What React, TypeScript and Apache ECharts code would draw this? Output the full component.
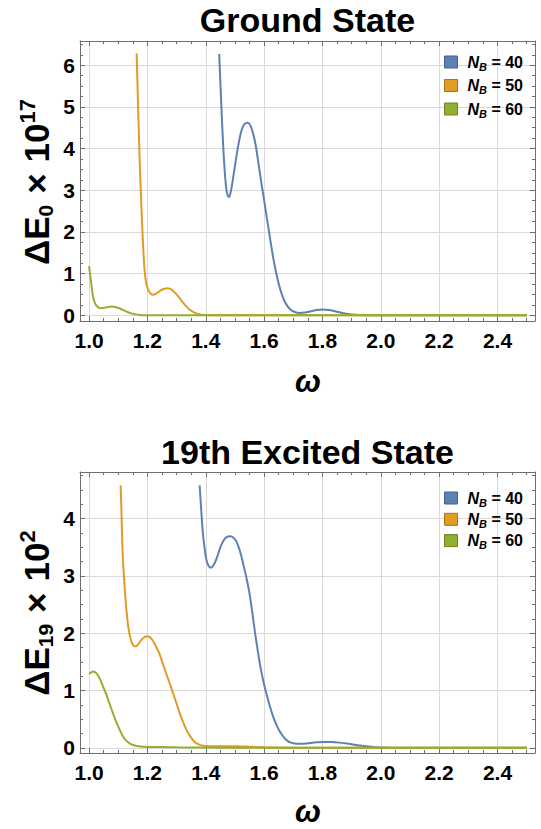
import React, { useEffect, useRef } from "react";
import * as echarts from "echarts";

// ΔE0 × 10^17 versus ω (ground state)
const groundNB40: [number, number][] = [
  [1.446, 6.27], [1.449, 5.75], [1.452, 5.25], [1.455, 4.75], [1.458, 4.3], [1.461, 3.9],
  [1.464, 3.55], [1.467, 3.27], [1.470, 3.05], [1.473, 2.93], [1.476, 2.86], [1.479, 2.84],
  [1.482, 2.86], [1.488, 3.05], [1.496, 3.4], [1.503, 3.72], [1.512, 4.1], [1.522, 4.42],
  [1.532, 4.58], [1.543, 4.62], [1.553, 4.55], [1.563, 4.34], [1.571, 4.08], [1.579, 3.72],
  [1.590, 3.2], [1.600, 2.76], [1.609, 2.35], [1.618, 1.95], [1.627, 1.55], [1.636, 1.2],
  [1.645, 0.9], [1.655, 0.63], [1.665, 0.42], [1.677, 0.25], [1.690, 0.14], [1.705, 0.08],
  [1.720, 0.055], [1.740, 0.065], [1.760, 0.095], [1.780, 0.125], [1.800, 0.14], [1.825, 0.125],
  [1.850, 0.085], [1.875, 0.045], [1.900, 0.02], [1.930, 0.006], [1.960, 0.001], [2.000, 0],
  [2.200, 0], [2.500, 0],
];
const groundNB50: [number, number][] = [
  [1.163, 6.28], [1.166, 5.5], [1.170, 4.5], [1.174, 3.6], [1.178, 2.84], [1.182, 2.15],
  [1.186, 1.55], [1.190, 1.1], [1.195, 0.8], [1.202, 0.62], [1.210, 0.53], [1.220, 0.49],
  [1.230, 0.52], [1.242, 0.58], [1.255, 0.63], [1.268, 0.65], [1.280, 0.63], [1.292, 0.56],
  [1.305, 0.46], [1.318, 0.34], [1.331, 0.23], [1.344, 0.14], [1.357, 0.08], [1.370, 0.04],
  [1.385, 0.015], [1.400, 0.005], [1.430, 0], [1.600, 0], [2.500, 0],
];
const groundNB60: [number, number][] = [
  [1.000, 1.18], [1.004, 0.95], [1.008, 0.72], [1.013, 0.47], [1.019, 0.31], [1.025, 0.23],
  [1.033, 0.185], [1.042, 0.17], [1.052, 0.18], [1.064, 0.2], [1.077, 0.21], [1.090, 0.2],
  [1.103, 0.17], [1.117, 0.125], [1.131, 0.08], [1.145, 0.045], [1.160, 0.022], [1.175, 0.009],
  [1.190, 0.003], [1.210, 0], [1.400, 0], [2.500, 0],
];

// ΔE19 × 10^2 versus ω (19th excited state)
const excitedNB40: [number, number][] = [
  [1.379, 4.58], [1.383, 4.25], [1.387, 3.95], [1.391, 3.69], [1.396, 3.48], [1.402, 3.28],
  [1.409, 3.18], [1.417, 3.14], [1.426, 3.18], [1.437, 3.3], [1.448, 3.47], [1.459, 3.6],
  [1.472, 3.68], [1.485, 3.69], [1.496, 3.66], [1.505, 3.6], [1.514, 3.48], [1.522, 3.34],
  [1.531, 3.15], [1.540, 2.95], [1.549, 2.72], [1.559, 2.38], [1.569, 2.0], [1.578, 1.7],
  [1.587, 1.42], [1.596, 1.19], [1.605, 1.0], [1.620, 0.72], [1.634, 0.5], [1.650, 0.32],
  [1.665, 0.2], [1.680, 0.12], [1.695, 0.085], [1.711, 0.07], [1.730, 0.07], [1.750, 0.08],
  [1.780, 0.095], [1.810, 0.1], [1.830, 0.1], [1.860, 0.09], [1.890, 0.07], [1.920, 0.045],
  [1.950, 0.025], [1.980, 0.01], [2.020, 0.003], [2.100, 0], [2.500, 0],
];
const excitedNB50: [number, number][] = [
  [1.108, 4.58], [1.111, 4.1], [1.113, 3.7], [1.116, 3.28], [1.120, 2.95], [1.124, 2.65],
  [1.128, 2.4], [1.133, 2.16], [1.139, 1.97], [1.146, 1.84], [1.153, 1.78], [1.160, 1.77],
  [1.168, 1.8], [1.177, 1.87], [1.187, 1.92], [1.196, 1.94], [1.205, 1.94], [1.214, 1.9],
  [1.223, 1.83], [1.232, 1.74], [1.242, 1.63], [1.252, 1.48], [1.262, 1.33], [1.271, 1.2],
  [1.280, 1.07], [1.288, 0.95], [1.300, 0.77], [1.311, 0.6], [1.322, 0.45], [1.334, 0.31],
  [1.348, 0.19], [1.362, 0.1], [1.380, 0.05], [1.400, 0.03], [1.450, 0.025], [1.500, 0.025],
  [1.550, 0.018], [1.600, 0.01], [1.650, 0.004], [1.700, 0], [2.500, 0],
];
const excitedNB60: [number, number][] = [
  [1.000, 1.29], [1.006, 1.31], [1.013, 1.33], [1.020, 1.32], [1.028, 1.28], [1.036, 1.21],
  [1.047, 1.08], [1.059, 0.93], [1.070, 0.77], [1.082, 0.6], [1.093, 0.45], [1.105, 0.31],
  [1.116, 0.2], [1.128, 0.12], [1.142, 0.07], [1.156, 0.04], [1.175, 0.022], [1.200, 0.015],
  [1.250, 0.012], [1.300, 0.008], [1.400, 0.004], [1.500, 0.001], [1.600, 0], [2.500, 0],
];

const basisSizes = ["40", "50", "60"];
const lineColors = ["#5E81B5", "#E09C24", "#8FB032"];
const swatchEdges = ["#41608F", "#A9731A", "#6A8424"];

const FONT = '"Liberation Sans", Arial, Helvetica, sans-serif';
const FRAME = "#6f6f6f";
const GRID_LINE = "#dadada";

const X_RANGE: [number, number] = [0.9688, 2.5286];
const Y_RANGES: [number, number][] = [
  [-0.137, 6.58],
  [-0.091, 4.811],
];

const isMultiple = (v: number, step: number) =>
  Math.abs(v / step - Math.round(v / step)) < 1e-6;

// Frame ticks: a major axis (with line) and an overlaid minor-tick axis per side
function tickAxis(step: number, major: boolean) {
  return {
    minInterval: step,
    maxInterval: step,
    axisLine: major
      ? { show: true, onZero: false, lineStyle: { color: FRAME, width: 1 } }
      : { show: false, onZero: false },
    axisTick: { show: true, inside: true, length: major ? 5 : 3, lineStyle: { color: FRAME } },
    axisLabel: { show: false },
    splitLine: { show: false },
  };
}

const labelStyle = {
  fontSize: 21,
  fontWeight: "bold",
  fontFamily: FONT,
  color: "#000",
  showMinLabel: true,
  showMaxLabel: true,
};

function xAxesFor(gridIndex: number) {
  const common = { type: "value" as const, gridIndex, min: X_RANGE[0], max: X_RANGE[1] };
  return [
    {
      ...common,
      position: "bottom",
      ...tickAxis(0.2, true),
      axisLabel: {
        show: true,
        margin: 9,
        ...labelStyle,
        formatter: (v: number) => (isMultiple(v, 0.2) ? v.toFixed(1) : ""),
      },
      splitLine: { show: true, showMinLine: false, showMaxLine: false, lineStyle: { color: GRID_LINE, width: 1 } },
    },
    { ...common, position: "bottom", ...tickAxis(0.05, false) },
    { ...common, position: "top", ...tickAxis(0.2, true) },
    { ...common, position: "top", ...tickAxis(0.05, false) },
  ];
}

function yAxesFor(gridIndex: number) {
  const [lo, hi] = Y_RANGES[gridIndex];
  const common = { type: "value" as const, gridIndex, min: lo, max: hi };
  return [
    {
      ...common,
      position: "left",
      ...tickAxis(1, true),
      axisLabel: {
        show: true,
        margin: 5,
        ...labelStyle,
        formatter: (v: number) => (isMultiple(v, 1) ? String(Math.round(v)) : ""),
      },
      splitLine: { show: true, showMinLine: false, showMaxLine: false, lineStyle: { color: GRID_LINE, width: 1 } },
    },
    { ...common, position: "left", ...tickAxis(0.25, false) },
    { ...common, position: "right", ...tickAxis(1, true) },
    { ...common, position: "right", ...tickAxis(0.25, false) },
  ];
}

const legendName = (panel: number, i: number) =>
  `${panel === 0 ? "ground" : "excited"} N_B = ${basisSizes[i]}`;

function seriesFor(panel: number, sets: [number, number][][]) {
  return sets.map((data, i) => ({
    type: "line" as const,
    name: legendName(panel, i),
    xAxisIndex: panel * 4,
    yAxisIndex: panel * 4,
    data,
    showSymbol: false,
    smooth: 0.3,
    clip: true,
    lineStyle: { color: lineColors[i], width: 2 },
    itemStyle: { color: lineColors[i], borderColor: swatchEdges[i], borderWidth: 1 },
    emphasis: { disabled: true },
  }));
}

function legendFor(panel: number, top: number, gap: number) {
  return {
    orient: "vertical" as const,
    left: 439,
    top,
    itemWidth: 13,
    itemHeight: 12,
    itemGap: gap,
    icon: "rect",
    selectedMode: false,
    data: basisSizes.map((_, i) => ({
      name: legendName(panel, i),
      itemStyle: { color: lineColors[i], borderColor: swatchEdges[i], borderWidth: 1 },
    })),
    formatter: (name: string) => `{n|N}{b|B}{t| = ${name.split("= ")[1]}}`,
    textStyle: {
      fontFamily: FONT,
      color: "#000",
      rich: {
        n: { fontSize: 16, fontWeight: "bold", fontStyle: "italic", fontFamily: FONT, color: "#000", lineHeight: 20, padding: [0, 0, 0, 5] },
        b: { fontSize: 11, fontWeight: "bold", fontStyle: "italic", fontFamily: FONT, color: "#000", lineHeight: 14, verticalAlign: "bottom" },
        t: { fontSize: 16, fontWeight: "bold", fontFamily: FONT, color: "#000", lineHeight: 20 },
      },
    },
  };
}

function yTitle(x: number, y: number, sub: string, sup: string) {
  return {
    type: "text" as const,
    x,
    y,
    rotation: Math.PI / 2,
    silent: true,
    style: {
      text: `{m|ΔE}{s|${sub}}{x|×}{m|10}{p|${sup}}`,
      align: "center",
      verticalAlign: "middle",
      fontFamily: FONT,
      rich: {
        m: { fontSize: 35, fontWeight: "bold", fontFamily: FONT, fill: "#000", lineHeight: 40 },
        s: { fontSize: 21, fontWeight: "bold", fontFamily: FONT, fill: "#000", lineHeight: 23, verticalAlign: "bottom" },
        x: { fontSize: 35, fontWeight: "bold", fontFamily: FONT, fill: "#000", lineHeight: 40, padding: [0, 11, 0, 11] },
        p: { fontSize: 22, fontWeight: "bold", fontFamily: FONT, fill: "#000", lineHeight: 30, verticalAlign: "top" },
      },
    },
  };
}

function centeredText(x: number, y: number, text: string, size: number, italic = false) {
  return {
    type: "text" as const,
    x,
    y,
    silent: true,
    style: {
      text,
      fontSize: size,
      fontWeight: "bold",
      fontStyle: italic ? "italic" : "normal",
      fontFamily: FONT,
      fill: "#000",
      align: "center",
      verticalAlign: "middle",
    },
  };
}

export default function App() {
  const ref = useRef<HTMLDivElement>(null);

  useEffect(() => {
    if (!ref.current) return;
    const chart = echarts.init(ref.current, null, { renderer: "svg" });
    chart.setOption({
      animation: false,
      backgroundColor: "#ffffff",
      grid: [
        { left: 80, top: 41, width: 455, height: 280, containLabel: false },
        { left: 80, top: 472, width: 455, height: 281, containLabel: false },
      ],
      xAxis: [...xAxesFor(0), ...xAxesFor(1)],
      yAxis: [...yAxesFor(0), ...yAxesFor(1)],
      legend: [legendFor(0, 49, 5.5), legendFor(1, 485, 3.3)],
      series: [
        ...seriesFor(0, [groundNB40, groundNB50, groundNB60]),
        ...seriesFor(1, [excitedNB40, excitedNB50, excitedNB60]),
      ],
      graphic: [
        centeredText(307.5, 20, "Ground State", 34),
        centeredText(307.5, 452, "19th Excited State", 34),
        centeredText(308, 381, "ω", 31, true),
        centeredText(308, 811, "ω", 31, true),
        yTitle(36, 182, "0", "17"),
        yTitle(36, 613, "19", "2"),
      ],
    });
    return () => chart.dispose();
  }, []);

  return (
    <div
      ref={ref}
      style={{ position: "fixed", left: 0, top: 0, width: 541, height: 829, background: "#fff" }}
    />
  );
}
